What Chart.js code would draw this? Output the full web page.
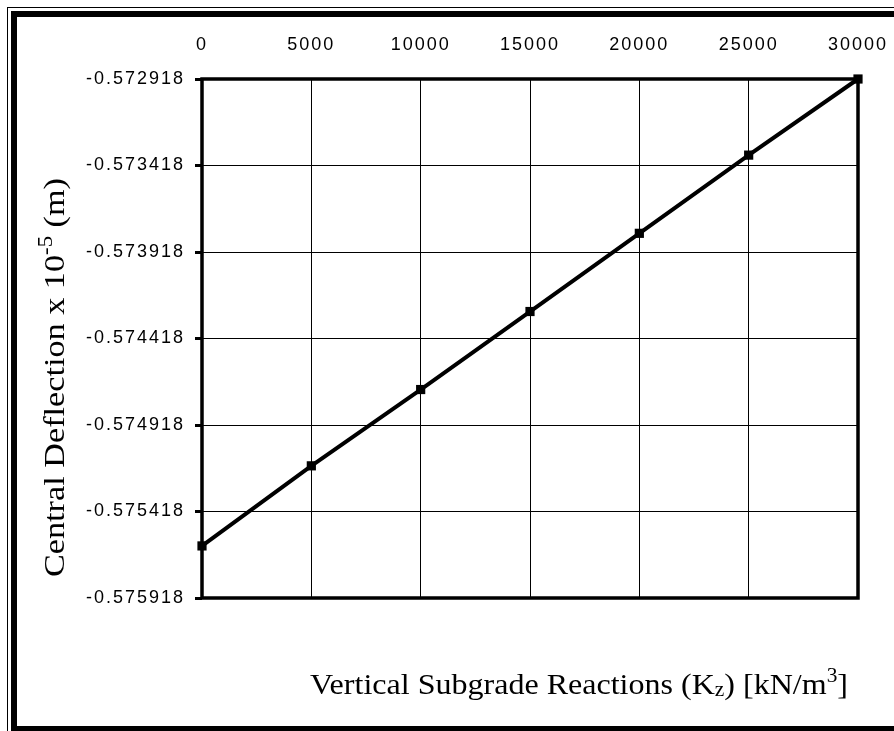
<!DOCTYPE html>
<html>
<head>
<meta charset="utf-8">
<script src="https://cdn.jsdelivr.net/npm/chart.js@4.4.0/dist/chart.umd.min.js"></script>
<style>
  html, body { margin: 0; padding: 0; background: #fff; }
</style>
</head>
<body>
<canvas id="myChart" width="894" height="731"></canvas>
<script>
// data
var subgradeK = [0, 5000, 10000, 15000, 20000, 25000, 30000];
var deflection = [-0.575617, -0.575154, -0.574713, -0.574262, -0.573810, -0.573358, -0.572918];
var xTicks = [0, 5000, 10000, 15000, 20000, 25000, 30000];
var yTicks = [-0.575918, -0.575418, -0.574918, -0.574418, -0.573918, -0.573418, -0.572918];

var points = subgradeK.map(function (k, i) { return { x: k, y: deflection[i] }; });

// draws the text runs one after another, with sub / superscripts
function drawRuns(ctx, runs, x, y) {
    runs.forEach(function (r) {
        ctx.font = r.size + 'px "Liberation Serif", "Times New Roman", serif';
        ctx.fillText(r.text, x, y - (r.rise || 0));
        x += ctx.measureText(r.text).width;
    });
}
function runsWidth(ctx, runs) {
    var w = 0;
    runs.forEach(function (r) {
        ctx.font = r.size + 'px "Liberation Serif", "Times New Roman", serif';
        w += ctx.measureText(r.text).width;
    });
    return w;
}

var xTitle = [
    { text: 'Vertical Subgrade Reactions (K', size: 30 },
    { text: 'z', size: 20, rise: -2 },
    { text: ') [kN/m', size: 30 },
    { text: '3', size: 20, rise: 12 },
    { text: ']', size: 30 }
];
var yTitle = [
    { text: 'Central Deflection x 10', size: 30 },
    { text: '-5', size: 20, rise: 12 },
    { text: ' (m)', size: 30 }
];

var framePlugin = {
    id: 'frame',
    beforeDraw: function (chart) {
        var ctx = chart.ctx;
        ctx.save();
        ctx.fillStyle = '#fff';
        ctx.fillRect(0, 0, chart.width, chart.height);
        ctx.strokeStyle = '#000';
        ctx.lineWidth = 1;
        ctx.strokeRect(7.5, 7.5, chart.width + 20, chart.height + 20);
        ctx.lineWidth = 6;
        ctx.strokeRect(14, 14, chart.width + 20, 715);
        ctx.restore();
        ctx.letterSpacing = '2px';
    },
    beforeDatasetsDraw: function (chart) {
        var ctx = chart.ctx, a = chart.chartArea;
        ctx.save();
        ctx.strokeStyle = '#000';
        ctx.lineWidth = 3.5;
        ctx.strokeRect(a.left, a.top, a.right - a.left, a.bottom - a.top);
        ctx.restore();
    },
    afterDraw: function (chart) {
        var ctx = chart.ctx;
        ctx.letterSpacing = '0px';
        ctx.save();
        ctx.fillStyle = '#000';
        ctx.textBaseline = 'alphabetic';
        ctx.textAlign = 'left';
        // x title, fitted to the width seen in the picture
        var wx = runsWidth(ctx, xTitle);
        ctx.save();
        ctx.translate(310, 694);
        ctx.scale(538 / wx, 1);
        drawRuns(ctx, xTitle, 0, 0);
        ctx.restore();
        // y title, rotated
        var wy = runsWidth(ctx, yTitle);
        ctx.translate(64, 577);
        ctx.rotate(-Math.PI / 2);
        ctx.scale(399 / wy, 1);
        drawRuns(ctx, yTitle, 0, 0);
        ctx.restore();
    }
};

new Chart(document.getElementById('myChart'), {
    type: 'scatter',
    data: {
        datasets: [{
            data: points,
            showLine: true,
            borderColor: '#000',
            backgroundColor: '#000',
            borderWidth: 4,
            pointStyle: 'rect',
            pointRadius: 6.5,
            pointHoverRadius: 6.5,
            pointBorderWidth: 0,
            clip: false
        }]
    },
    plugins: [framePlugin],
    options: {
        responsive: false,
        animation: false,
        events: [],
        layout: { padding: { left: 0, right: 36, top: 0, bottom: 133 } },
        plugins: { legend: { display: false }, tooltip: { enabled: false } },
        scales: {
            x: {
                type: 'linear',
                position: 'top',
                min: 0,
                max: 30000,
                afterBuildTicks: function (scale) {
                    scale.ticks = xTicks.map(function (v) { return { value: v }; });
                },
                afterFit: function (scale) {
                    scale.height = 79;
                    scale.paddingLeft = 0;
                    scale.paddingRight = 0;
                },
                border: { display: false },
                grid: { color: '#000', lineWidth: 1, drawTicks: false },
                ticks: {
                    color: '#000',
                    padding: 23,
                    maxRotation: 0,
                    font: { family: '"Liberation Sans", Arial, sans-serif', size: 18 },
                    callback: function (v) { return String(v); }
                }
            },
            y: {
                type: 'linear',
                min: -0.575918,
                max: -0.572918,
                afterBuildTicks: function (scale) {
                    scale.ticks = yTicks.map(function (v) { return { value: v }; });
                },
                afterFit: function (scale) {
                    scale.width = 202;
                    scale.paddingTop = 0;
                    scale.paddingBottom = 0;
                },
                border: { display: false },
                grid: { color: '#000', lineWidth: 1, tickLength: 7, tickWidth: 3, tickColor: '#000' },
                ticks: {
                    color: '#000',
                    padding: 10,
                    font: { family: '"Liberation Sans", Arial, sans-serif', size: 18 },
                    callback: function (v) { return v.toFixed(6); }
                }
            }
        }
    }
});
</script>
</body>
</html>
